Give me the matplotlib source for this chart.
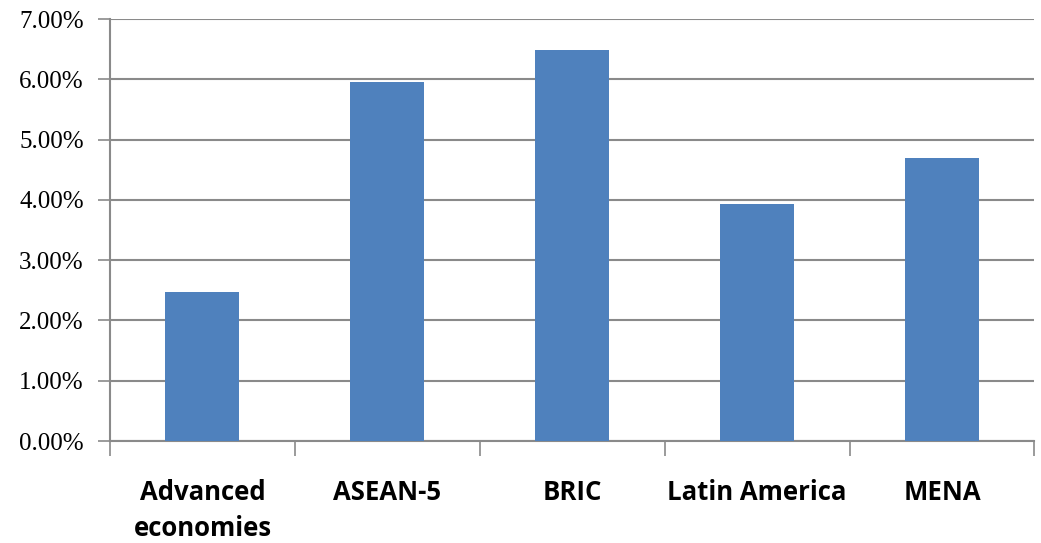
import matplotlib.pyplot as plt
from matplotlib.ticker import FuncFormatter, FixedLocator

categories = ["Advanced\neconomies", "ASEAN-5", "BRIC", "Latin America", "MENA"]
growth = [2.47, 5.95, 6.48, 3.93, 4.70]
y_ticks = [0, 1, 2, 3, 4, 5, 6, 7]

fig = plt.figure(figsize=(10.41, 5.43), dpi=100)
ax = fig.add_axes([0.1057, 0.1878, 0.888, 0.777])

x = range(len(categories))
ax.bar(x, growth, width=0.4, color="#4F81BD", zorder=3)

ax.set_xlim(-0.5, len(categories) - 0.5)
ax.set_ylim(0, 7)
ax.set_yticks(y_ticks)
ax.yaxis.set_major_formatter(FuncFormatter(lambda v, p: f"{v:.2f}%"))
ax.grid(axis="y", color="#8a8a8a", linewidth=1.5, zorder=0)

# category labels centred, ticks on the category boundaries
ax.set_xticks(list(x))
ax.set_xticklabels(categories, fontsize=18.5, fontweight="bold",
                   family="Open Sans", linespacing=1.45, va="top")
ax.tick_params(axis="x", which="major", length=0, pad=27)
ax.xaxis.set_minor_locator(FixedLocator([i + 0.5 for i in range(-1, len(categories))]))
ax.tick_params(axis="x", which="minor", length=11, width=1.2, color="#8a8a8a")

ax.tick_params(axis="y", length=9, width=1.2, color="#8a8a8a", pad=10,
               labelsize=18)
for lbl in ax.get_yticklabels():
    lbl.set_family("Liberation Serif")

for side in ["top", "right"]:
    ax.spines[side].set_visible(False)
for side in ["left", "bottom"]:
    ax.spines[side].set_color("#8a8a8a")
    ax.spines[side].set_linewidth(1.5)

plt.savefig("out.png", dpi=100)
plt.close()
